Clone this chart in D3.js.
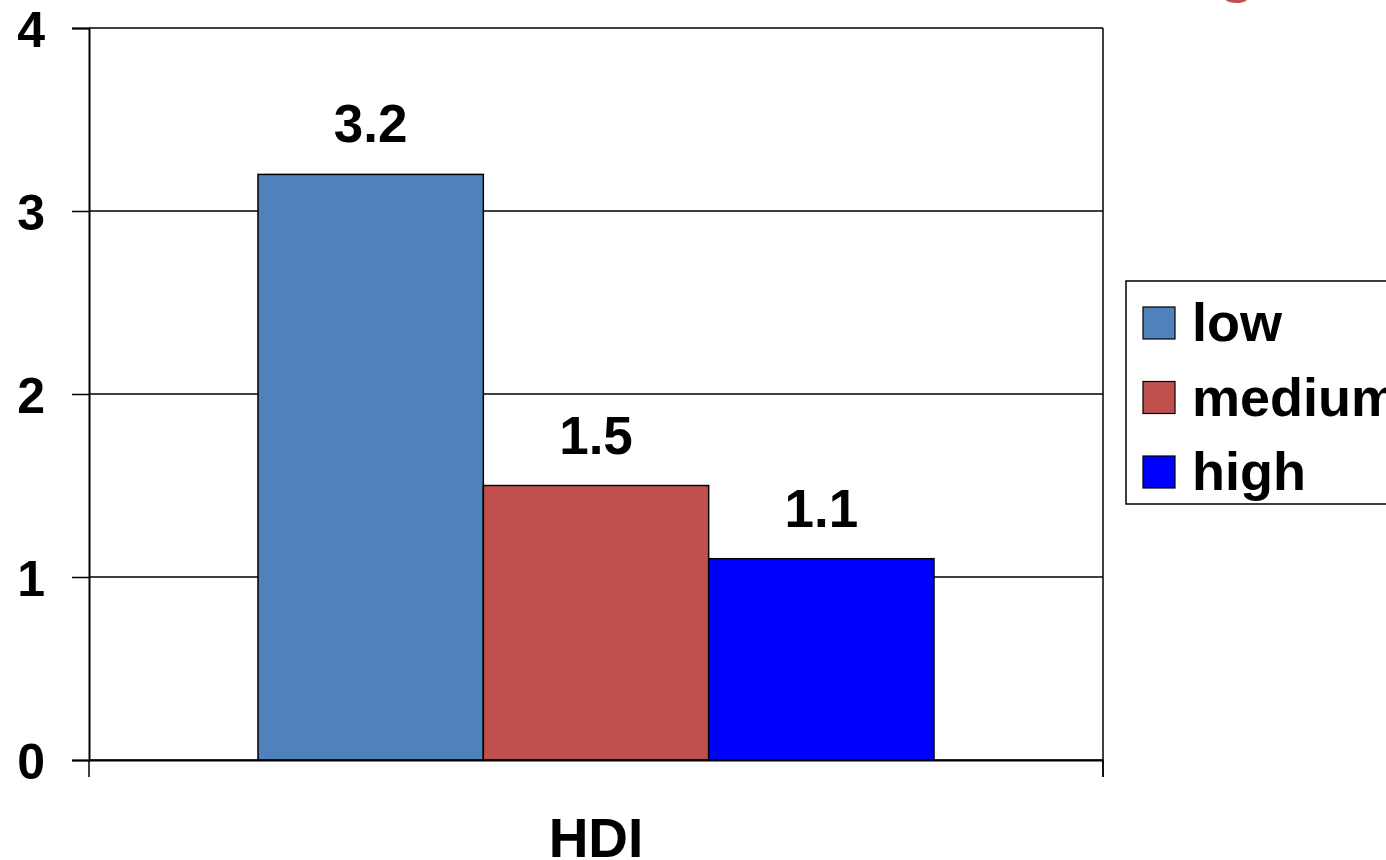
<!DOCTYPE html>
<html>
<head>
<meta charset="utf-8">
<script src="https://cdn.jsdelivr.net/npm/d3@7"></script>
<style>
  body { margin: 0; background: #fff; }
  text { font-family: Arial, "Liberation Sans", sans-serif; font-weight: bold; }
</style>
</head>
<body>
<script>
// data
var categories = ["HDI"];
var seriesNames = ["low", "medium", "high"];
var seriesValues = [3.2, 1.5, 1.1];
var seriesColors = ["#4F81BD", "#C0504D", "#0000FF"];
var yTicks = [0, 1, 2, 3, 4];

var svgWidth = 1386;
var svgHeight = 860;

var margin = { top: 28, right: 283, bottom: 100, left: 89 };
var width = svgWidth - margin.left - margin.right;
var height = svgHeight - margin.top - margin.bottom;

var svg = d3.select("body")
    .append("svg")
    .attr("width", svgWidth)
    .attr("height", svgHeight);

// partly hidden red title glyph at the top edge
svg.append("text")
    .attr("x", 1237)
    .attr("y", -9)
    .attr("text-anchor", "middle")
    .attr("font-size", 60)
    .attr("fill", "#C0504D")
    .text("g");

var chartGroup = svg.append("g")
    .attr("transform", `translate(${margin.left}, ${margin.top})`);

var yScale = d3.scaleLinear().domain([0, 4]).range([height, 0]);

var xScale = d3.scaleBand().domain(categories).range([0, width]);
var innerScale = d3.scaleBand().domain(seriesNames)
    .range([169, 845]);

// gridlines
chartGroup.append("g")
    .selectAll("line")
    .data(yTicks)
    .enter()
    .append("line")
    .attr("x1", 0)
    .attr("x2", width)
    .attr("y1", d => yScale(d))
    .attr("y2", d => yScale(d))
    .attr("stroke", "#000")
    .attr("stroke-width", 1.3);

// y axis
var leftAxis = d3.axisLeft(yScale).tickValues(yTicks).tickSize(17).tickPadding(27)
    .tickFormat(d3.format("d"));
var yAxisG = chartGroup.append("g").call(leftAxis);
yAxisG.select(".domain").attr("stroke-width", 2);
yAxisG.selectAll(".tick line").attr("stroke-width", 1.5);
yAxisG.selectAll(".tick text")
    .attr("font-size", 50)
    .attr("font-family", "Arial, 'Liberation Sans', sans-serif")
    .attr("font-weight", "bold")
    .attr("fill", "#000")
    .attr("dy", "0.36em");

// right border
chartGroup.append("line")
    .attr("x1", width).attr("x2", width)
    .attr("y1", 0).attr("y2", height + 17)
    .attr("stroke", "#000").attr("stroke-width", 1.5);

// bars
chartGroup.selectAll("rect.bar")
    .data(seriesValues)
    .enter()
    .append("rect")
    .attr("class", "bar")
    .attr("x", (d, i) => xScale(categories[0]) + innerScale(seriesNames[i]))
    .attr("width", innerScale.bandwidth())
    .attr("y", d => yScale(d))
    .attr("height", d => height - yScale(d))
    .attr("fill", (d, i) => seriesColors[i])
    .attr("stroke", "#000")
    .attr("stroke-width", 1.5);

// value labels
chartGroup.selectAll("text.val")
    .data(seriesValues)
    .enter()
    .append("text")
    .attr("class", "val")
    .attr("x", (d, i) => xScale(categories[0]) + innerScale(seriesNames[i]) + innerScale.bandwidth() / 2)
    .attr("y", d => yScale(d) - 32)
    .attr("text-anchor", "middle")
    .attr("font-size", 53)
    .text(d => d3.format(".1f")(d));

// x axis
var bottomAxis = d3.axisBottom(xScale).tickSize(0).tickPadding(58);
var xAxisG = chartGroup.append("g")
    .attr("transform", `translate(0, ${height})`)
    .call(bottomAxis);
xAxisG.select(".domain").attr("stroke-width", 2);
xAxisG.selectAll(".tick text")
    .attr("font-size", 55)
    .attr("font-family", "Arial, 'Liberation Sans', sans-serif")
    .attr("font-weight", "bold")
    .attr("fill", "#000");
// category edge ticks
xAxisG.selectAll("line.edge")
    .data([0, width])
    .enter()
    .append("line")
    .attr("class", "edge")
    .attr("x1", d => d).attr("x2", d => d)
    .attr("y1", 0).attr("y2", 17)
    .attr("stroke", "#000").attr("stroke-width", 1.5);

// legend
var legend = svg.append("g").attr("transform", "translate(1126, 281)");
legend.append("rect")
    .attr("x", 0).attr("y", 0)
    .attr("width", 300).attr("height", 223)
    .attr("fill", "#fff")
    .attr("stroke", "#000")
    .attr("stroke-width", 1.5);
var items = legend.selectAll("g.item")
    .data(seriesNames)
    .enter()
    .append("g")
    .attr("class", "item")
    .attr("transform", (d, i) => `translate(17, ${26 + i * 74.5})`);
items.append("rect")
    .attr("width", 32).attr("height", 32)
    .attr("fill", (d, i) => seriesColors[i])
    .attr("stroke", "#000")
    .attr("stroke-width", 1.2);
items.append("text")
    .attr("x", 49)
    .attr("y", 34)
    .attr("font-size", 54)
    .text(d => d);
</script>
</body>
</html>
